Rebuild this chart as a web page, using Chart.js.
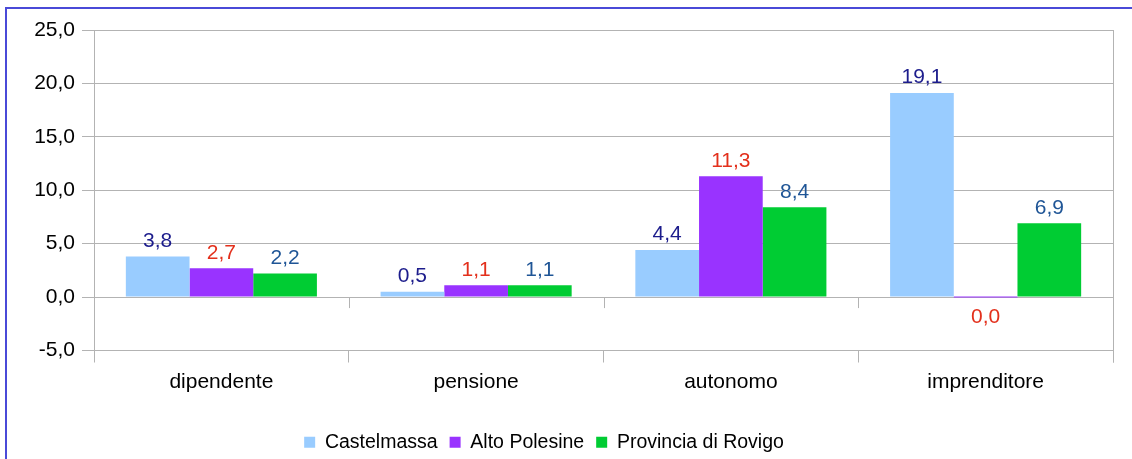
<!DOCTYPE html>
<html>
<head>
<meta charset="utf-8">
<script src="https://cdn.jsdelivr.net/npm/chart.js@4/dist/chart.umd.min.js"></script>
<style>
  html, body { margin: 0; padding: 0; background: #fff; }
  #wrap { width: 1132px; height: 459px; position: relative; }
</style>
</head>
<body>
<div id="wrap"><canvas id="chart1" width="1132" height="459"></canvas></div>
<script>
const categories = ['dipendente', 'pensione', 'autonomo', 'imprenditore'];
const seriesNames = ['Castelmassa', 'Alto Polesine', 'Provincia di Rovigo'];
const castelmassa = [3.8, 0.5, 4.4, 19.1];
const altoPolesine = [2.7, 1.1, 11.3, 0.0];
const provincia = [2.2, 1.1, 8.4, 6.9];
const yTicks = [-5, 0, 5, 10, 15, 20, 25];

const barColors = ['#99ccff', '#9933ff', '#00cc33'];
const labelColors = ['#1c1c8c', '#e3301c', '#1f5596'];
const gridColor = '#b3b3b3';
const fontName = "'Liberation Sans', Arial, sans-serif";

function fmt(v) {
  return v.toFixed(1).replace('.', ',');
}

// value labels over the bars
const valueLabels = {
  id: 'valueLabels',
  afterDatasetsDraw(chart) {
    const ctx = chart.ctx;
    ctx.save();
    ctx.font = '21px ' + fontName;
    ctx.textAlign = 'center';
    chart.data.datasets.forEach((ds, i) => {
      const meta = chart.getDatasetMeta(i);
      meta.data.forEach((bar, j) => {
        const v = ds.data[j];
        ctx.fillStyle = labelColors[i];
        if (v > 0) {
          ctx.textBaseline = 'bottom';
          ctx.fillText(fmt(v), bar.x, bar.y - 5);
        } else {
          ctx.textBaseline = 'top';
          ctx.fillText(fmt(v), bar.x, bar.y + 9);
        }
      });
    });
    ctx.restore();
  }
};

// ticks on the zero line, right border, outer frame
const extras = {
  id: 'extras',
  beforeDatasetsDraw(chart) {
    const ctx = chart.ctx;
    const a = chart.chartArea;
    const x = chart.scales.x;
    const y0 = chart.scales.y.getPixelForValue(0);
    ctx.save();
    ctx.strokeStyle = gridColor;
    ctx.lineWidth = 1;
    ctx.beginPath();
    for (let i = 1; i < categories.length; i++) {
      const px = Math.round((x.getPixelForValue(i - 1) + x.getPixelForValue(i)) / 2) + 0.5;
      ctx.moveTo(px, y0);
      ctx.lineTo(px, y0 + 11);
    }
    ctx.moveTo(Math.round(a.right) + 0.5, a.top);
    ctx.lineTo(Math.round(a.right) + 0.5, a.bottom + 12);
    ctx.stroke();
    ctx.restore();
  },
  afterDraw(chart) {
    const ctx = chart.ctx;
    ctx.save();
    ctx.strokeStyle = '#4a4ad8';
    ctx.lineWidth = 2;
    ctx.beginPath();
    ctx.moveTo(6, chart.height + 2);
    ctx.lineTo(6, 8);
    ctx.lineTo(chart.width + 2, 8);
    ctx.stroke();
    ctx.restore();
  }
};

const ctx = document.getElementById('chart1');
new Chart(ctx, {
  type: 'bar',
  data: {
    labels: categories,
    datasets: [
      { label: seriesNames[0], data: castelmassa, backgroundColor: barColors[0] },
      { label: seriesNames[1], data: altoPolesine, backgroundColor: barColors[1], minBarLength: 1 },
      { label: seriesNames[2], data: provincia, backgroundColor: barColors[2] }
    ]
  },
  options: {
    responsive: false,
    animation: false,
    devicePixelRatio: 1,
    categoryPercentage: 0.75,
    barPercentage: 1.0,
    layout: { padding: { top: 30, right: 19, left: -25, bottom: -3 } },
    plugins: {
      tooltip: { enabled: false },
      legend: {
        position: 'bottom',
        labels: {
          color: '#000',
          font: { family: fontName, size: 19.5 },
          boxWidth: 11,
          boxHeight: 11,
          padding: 12
        }
      }
    },
    scales: {
      x: {
        afterFit(scale) { scale.height = 70; },
        grid: { display: true, drawOnChartArea: false, tickLength: 12, color: gridColor, offset: true },
        border: { display: false },
        ticks: { color: '#000', padding: 7, font: { family: fontName, size: 21 } }
      },
      y: {
        min: -5,
        max: 25,
        afterFit(scale) { scale.width = 119; },
        afterBuildTicks(scale) { scale.ticks = yTicks.map(v => ({ value: v })); },
        grid: { color: gridColor, tickLength: 12 },
        border: { display: true, color: gridColor },
        ticks: {
          color: '#000',
          padding: 7,
          font: { family: fontName, size: 21 },
          callback: (v) => fmt(v)
        }
      }
    }
  },
  plugins: [valueLabels, extras]
});
</script>
</body>
</html>
